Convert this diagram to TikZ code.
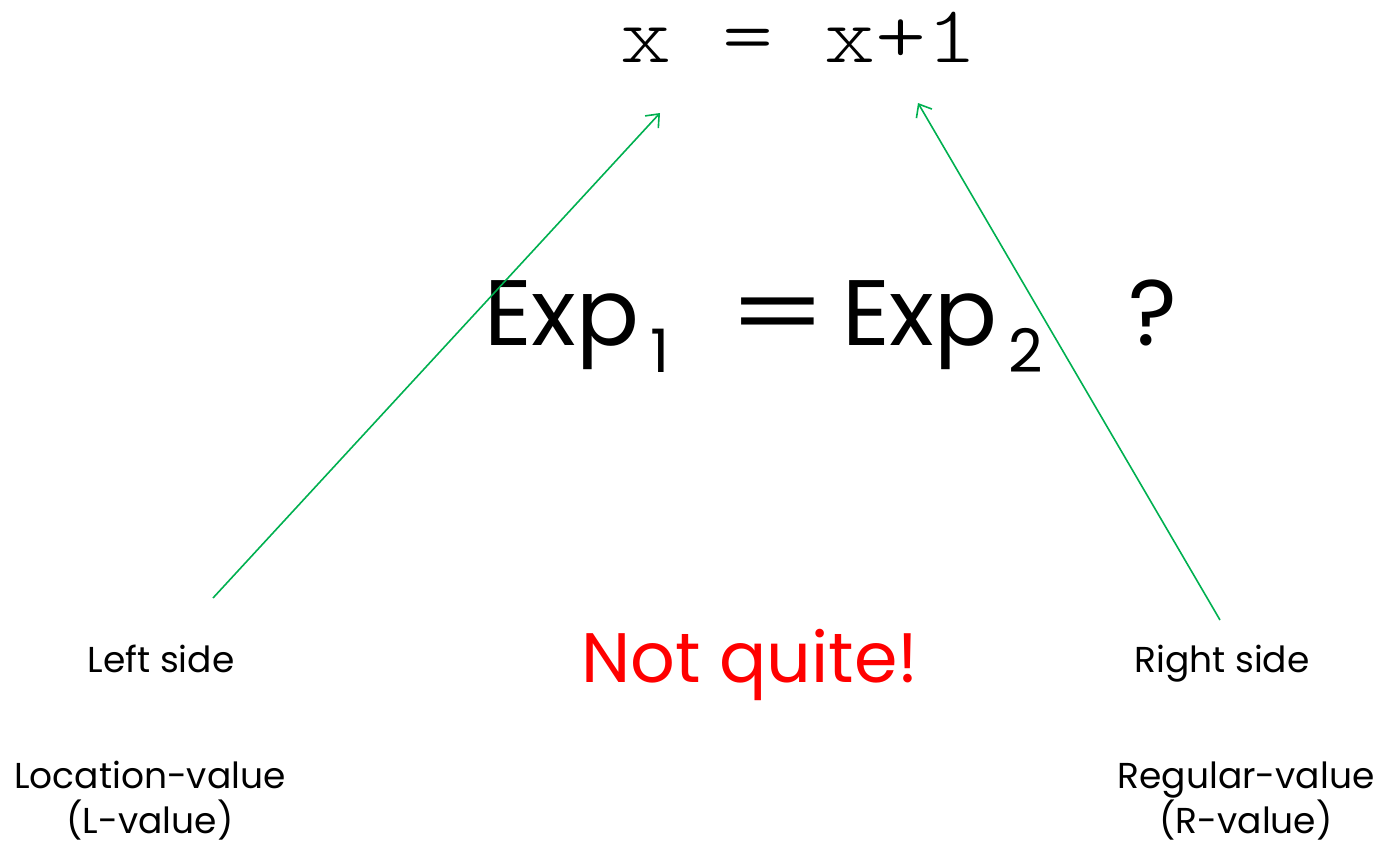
\documentclass[tikz,border=0pt]{standalone}
\usepackage{fontspec}
\usetikzlibrary{arrows.meta}
\setmainfont{Poppins}
\newfontfamily\codefont{lmmonolt10-regular.otf}[FakeStretch=1.2]
\newcommand{\lowidx}[1]{\hspace{0.12em}\raisebox{-0.3em}{\fontsize{60}{60}\selectfont #1}}
\definecolor{arrowgreen}{RGB}{0,176,80}
\tikzset{
  side/.style={font=\fontsize{36}{45}\selectfont, align=center, inner sep=0pt},
  big/.style={font=\fontsize{93}{93}\selectfont, inner sep=0pt, anchor=base west},
  link/.style={arrowgreen, line width=1.6pt, -{Straight Barb[length=11pt,width=18pt]}},
}
\begin{document}
\begin{tikzpicture}[x=1pt,y=-1pt]
  \useasboundingbox (0,0) rectangle (1381,849);
  \node[inner sep=0pt, anchor=base, font=\codefont\fontsize{81}{90}\selectfont] (stmt) at (799,62) {x = x+1};
  \node[big] (exp1) at (484,345) {Exp\lowidx{1}};
  \node[big] (eq) at (727,345) {\scalebox{1.5}[1]{=}};
  \node[big] (exp2) at (842,345) {Exp\lowidx{2}};
  \node[big] (qm) at (1128,345) {?};
  \node[inner sep=0pt, red, anchor=base, font=\fontsize{70}{80}\selectfont] (nq) at (750,682) {Not quite!};
  \node[side, anchor=base] (lhs) at (161,672) {Left side};
  \node[side, anchor=base] (rhs) at (1222,672) {Right side};
  \node[side] (lval) at (150,801) {Location-value\\(L-value)};
  \node[side] (rval) at (1246,801) {Regular-value\\(R-value)};
  \coordinate (lfoot) at (213,598);
  \coordinate (rfoot) at (1220,620);
  \coordinate (ltip) at (660,113);
  \coordinate (rtip) at (918,103);
  \draw[link] (lfoot) -- (ltip);
  \draw[link] (rfoot) -- (rtip);
\end{tikzpicture}
\end{document}
